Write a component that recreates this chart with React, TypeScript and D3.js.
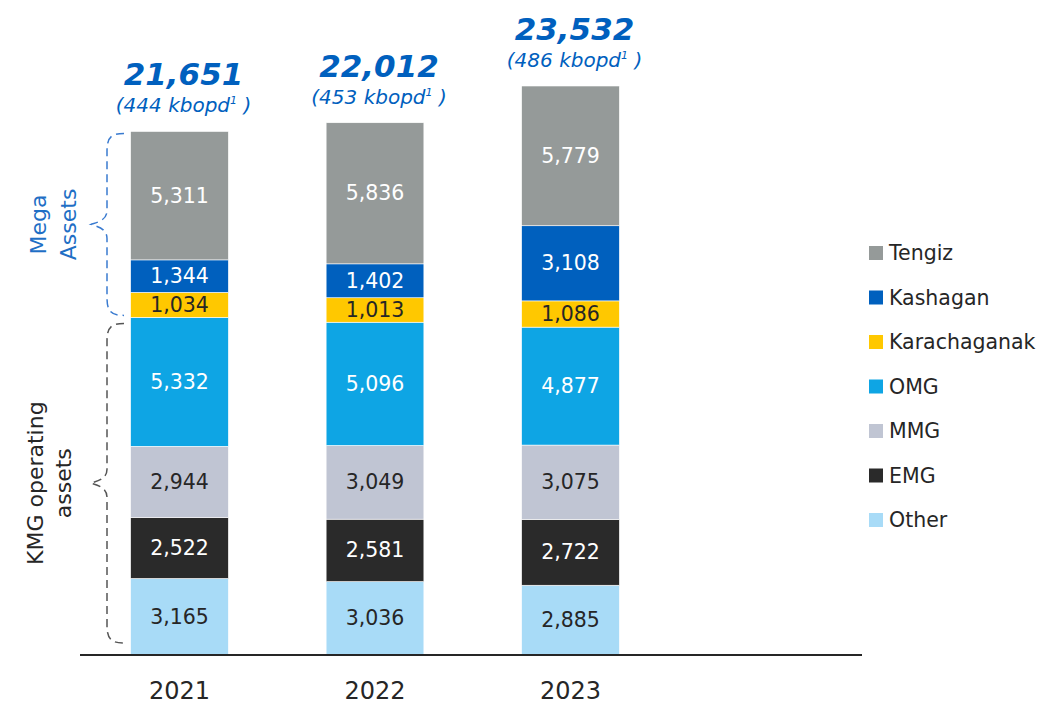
import React from 'react';
import * as d3 from 'd3';

// production by year (kboe-ish units from the slide)
const years = ['2021', '2022', '2023'];
const series = ['Tengiz', 'Kashagan', 'Karachaganak', 'OMG', 'MMG', 'EMG', 'Other'];
const tengiz = [5311, 5836, 5779];
const kashagan = [1344, 1402, 3108];
const karachaganak = [1034, 1013, 1086];
const omg = [5332, 5096, 4877];
const mmg = [2944, 3049, 3075];
const emg = [2522, 2581, 2722];
const other = [3165, 3036, 2885];
const totals = ['21,651', '22,012', '23,532'];
const kbopd = ['444', '453', '486'];

const colors: Record<string, string> = {
  Tengiz: '#959A99',
  Kashagan: '#0060BE',
  Karachaganak: '#FFC800',
  OMG: '#0EA5E4',
  MMG: '#C0C5D3',
  EMG: '#2A2A2A',
  Other: '#A8DBF7',
};
const labelColor: Record<string, string> = {
  Tengiz: '#fff',
  Kashagan: '#fff',
  Karachaganak: '#262626',
  OMG: '#fff',
  MMG: '#262626',
  EMG: '#fff',
  Other: '#262626',
};

const font = '"DejaVu Sans", Verdana, sans-serif';
const blue = '#0060BE';

const App = () => {
  const width = 1043, height = 706;
  const baseline = 655;

  const rows = years.map((yr, i) => ({
    year: yr,
    Tengiz: tengiz[i], Kashagan: kashagan[i], Karachaganak: karachaganak[i],
    OMG: omg[i], MMG: mmg[i], EMG: emg[i], Other: other[i],
  }));

  // stack from the bottom: Other first, Tengiz on top
  const order = [...series].reverse();
  const stacked = d3.stack<any>().keys(order)(rows);

  const x = d3.scaleBand().domain(years).range([81.75, 668.25]).paddingInner(0.5).paddingOuter(0.25);
  const maxTotal = d3.max(stacked[stacked.length - 1], d => d[1]) as number;
  const y = d3.scaleLinear().domain([0, maxTotal]).range([baseline, 86]);

  // braces along the first bar
  const megaTop = y(stacked[stacked.length - 1][0][1]) + 2;
  const megaBot = y(stacked[3][0][1]) - 2;
  const kmgTop = y(stacked[3][0][1]) + 6;
  const kmgBot = baseline - 12;

  const brace = (y1: number, y2: number) => {
    const xr = 124, xm = 107, xt = 91, r = 18, r2 = 14;
    const ym = (y1 + y2) / 2;
    return `M${xr},${y1} C${xm + 4},${y1} ${xm},${y1 + 4} ${xm},${y1 + r} L${xm},${ym - r2}` +
      ` C${xm},${ym - 4} ${xt + 6},${ym - 2} ${xt},${ym}` +
      ` C${xt + 6},${ym + 2} ${xm},${ym + 4} ${xm},${ym + r2} L${xm},${y2 - r}` +
      ` C${xm},${y2 - 4} ${xm + 4},${y2} ${xr},${y2}`;
  };
  const megaMid = (megaTop + megaBot) / 2;
  const kmgMid = (kmgTop + kmgBot) / 2;

  const legendY = d3.scalePoint().domain(series).range([253, 520]);

  return (
    <svg width={width} height={height} style={{ position: 'absolute', left: 0, top: 0, background: '#fff' }}
      fontFamily={font}>
      {stacked.map(layer => (
        <g key={layer.key}>
          {layer.map((d, i) => {
            const x0 = x(years[i])!;
            const y0 = y(d[1]);
            const h = y(d[0]) - y(d[1]);
            const v = d[1] - d[0];
            return (
              <g key={i}>
                <rect x={x0} y={y0} width={x.bandwidth()} height={h} fill={colors[layer.key]}
                  stroke="#fff" strokeWidth={0.6} />
                <text x={x0 + x.bandwidth() / 2} y={y0 + h / 2} textAnchor="middle"
                  dominantBaseline="central" fontSize={20.5} fill={labelColor[layer.key]}>
                  {d3.format(',')(v)}
                </text>
              </g>
            );
          })}
        </g>
      ))}

      {/* totals above bars */}
      {years.map((yr, i) => {
        const top = y(stacked[stacked.length - 1][i][1]);
        const cx = x(yr)! + x.bandwidth() / 2 + 4;
        return (
          <g key={yr} fill={blue}>
            <text x={cx} y={top - 46} textAnchor="middle" fontSize={31} fontWeight="bold" fontStyle="italic">
              {totals[i]}
            </text>
            <text x={cx} y={top - 19} textAnchor="middle" fontSize={20} fontStyle="italic">
              ({kbopd[i]} kbopd<tspan fontSize={11} dy={-8}>1</tspan><tspan dy={8}> )</tspan>
            </text>
          </g>
        );
      })}

      {/* axis */}
      <line x1={80} x2={862} y1={baseline} y2={baseline} stroke="#262626" strokeWidth={2} />
      {years.map(yr => (
        <text key={yr} x={x(yr)! + x.bandwidth() / 2} y={699} textAnchor="middle" fontSize={24} fill="#262626">
          {yr}
        </text>
      ))}

      {/* braces */}
      <path d={brace(megaTop, megaBot)} fill="none" stroke="#3A7BD0" strokeWidth={1.5} strokeDasharray="8,5" />
      <path d={brace(kmgTop, kmgBot)} fill="none" stroke="#555" strokeWidth={1.5} strokeDasharray="8,5" />
      <g fill="#1F6FC5" fontSize={22} textAnchor="middle">
        <text transform={`translate(38,${megaMid}) rotate(-90)`} dominantBaseline="central">Mega</text>
        <text transform={`translate(68,${megaMid}) rotate(-90)`} dominantBaseline="central">Assets</text>
      </g>
      <g fill="#262626" fontSize={22} textAnchor="middle">
        <text transform={`translate(35,${kmgMid}) rotate(-90)`} dominantBaseline="central">KMG operating</text>
        <text transform={`translate(63,${kmgMid}) rotate(-90)`} dominantBaseline="central">assets</text>
      </g>

      {/* legend */}
      {series.map(s => (
        <g key={s} transform={`translate(869,${legendY(s)})`}>
          <rect x={0} y={-7} width={14} height={14} fill={colors[s]} />
          <text x={20} y={0} dominantBaseline="central" fontSize={20.5} fill="#262626">{s}</text>
        </g>
      ))}
    </svg>
  );
};

export default App;
